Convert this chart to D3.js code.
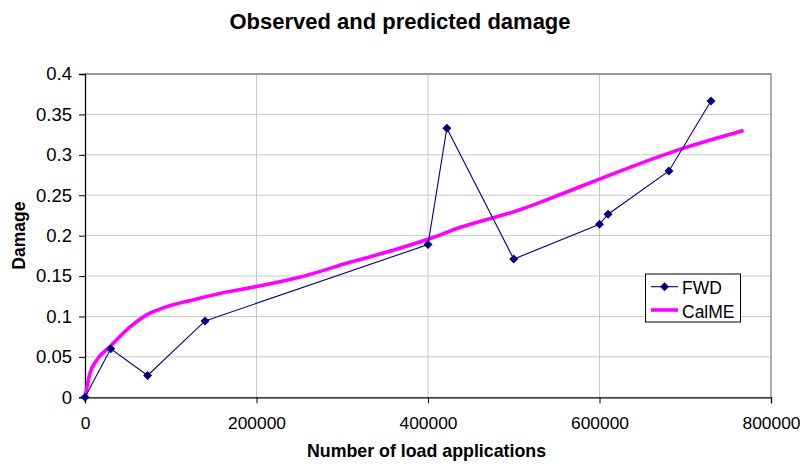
<!DOCTYPE html>
<html>
<head>
<meta charset="utf-8">
<script src="https://cdn.jsdelivr.net/npm/d3@7"></script>
<style>
  html, body { margin: 0; padding: 0; background: #fff; }
  svg { display: block; font-family: "Liberation Sans", Arial, sans-serif; }
</style>
</head>
<body>
<svg id="chart" width="800" height="464"></svg>
<script>
// ---- data ----
const fwdX = [0, 30000, 73000, 140000, 400000, 422000, 500000, 600000, 610000, 681000, 730000];
const fwdY = [0, 0.060, 0.027, 0.0945, 0.189, 0.333, 0.171, 0.214, 0.2265, 0.280, 0.3665];

const calmeX = [0, 5800, 13600, 29000, 52500, 72000, 95000, 126000, 157000, 200000, 250000, 309000, 367000, 400000, 437000, 507000, 558000, 600000, 686000, 768000];
const calmeY = [0, 0.0297, 0.046, 0.0625, 0.087, 0.102, 0.112, 0.1205, 0.1285, 0.137, 0.1485, 0.167, 0.1844, 0.1955, 0.210, 0.232, 0.2525, 0.270, 0.304, 0.330];

const xTicks = [0, 200000, 400000, 600000, 800000];
const yTicks = [0, 0.05, 0.1, 0.15, 0.2, 0.25, 0.3, 0.35, 0.4];
const seriesNames = ["FWD", "CalME"];
const titleText = "Observed and predicted damage";
const xTitle = "Number of load applications";
const yTitle = "Damage";

// ---- layout ----
const svg = d3.select("#chart");
const pL = 85, pR = 771, pT = 74, pB = 397.3;
const x = d3.scaleLinear().domain([0, 800000]).range([pL, pR]);
const y = d3.scaleLinear().domain([0, 0.4]).range([pB, pT]);

// gridlines
svg.append("g").selectAll("line").data(yTicks.filter(d => d > 0)).join("line")
  .attr("x1", pL).attr("x2", pR)
  .attr("y1", d => y(d)).attr("y2", d => y(d))
  .attr("stroke", "#c8c8c8").attr("stroke-width", 1);
svg.append("g").selectAll("line").data(xTicks.filter(d => d > 0 && d < 800000)).join("line")
  .attr("x1", d => x(d)).attr("x2", d => x(d))
  .attr("y1", pT).attr("y2", pB)
  .attr("stroke", "#c8c8c8").attr("stroke-width", 1);

// plot border (top/right grey)
svg.append("path")
  .attr("d", `M${pL},${pT}H${pR}V${pB}`)
  .attr("fill", "none").attr("stroke", "#808080").attr("stroke-width", 1.3);

// axes
const xAxis = d3.axisBottom(x).tickValues(xTicks).tickSize(6).tickPadding(6).tickFormat(d3.format("d"));
const gx = svg.append("g").attr("transform", `translate(0,${pB})`).call(xAxis);
gx.select(".domain").attr("stroke", "#000").attr("stroke-width", 1.3);
gx.selectAll(".tick line").attr("stroke", "#000");
gx.selectAll("text").attr("font-size", 17.4).attr("fill", "#000")
  .attr("font-family", "Liberation Sans, Arial, sans-serif")
  .attr("dy", null).attr("y", 32);

const yAxis = d3.axisLeft(y).tickValues(yTicks).tickSize(6).tickPadding(7).tickFormat(d => String(+d.toFixed(2)));
const gy = svg.append("g").attr("transform", `translate(${pL},0)`).call(yAxis);
gy.select(".domain").attr("stroke", "#000").attr("stroke-width", 1.3);
gy.selectAll(".tick line").attr("stroke", "#000");
gy.selectAll("text").attr("font-size", 18.5).attr("fill", "#000")
  .attr("font-family", "Liberation Sans, Arial, sans-serif");

// series
const fwd = fwdX.map((v, i) => [v, fwdY[i]]);
const calme = calmeX.map((v, i) => [v, calmeY[i]]);

svg.append("path").datum(calme)
  .attr("d", d3.line().x(d => x(d[0])).y(d => y(d[1])).curve(d3.curveMonotoneX))
  .attr("fill", "none").attr("stroke", "#ff00ff").attr("stroke-width", 3.6)
  .attr("stroke-linejoin", "round");

svg.append("path").datum(fwd)
  .attr("d", d3.line().x(d => x(d[0])).y(d => y(d[1])))
  .attr("fill", "none").attr("stroke", "#000080").attr("stroke-width", 1.1);

const diamond = (cx, cy, r) => `M${cx},${cy - r}L${cx + r},${cy}L${cx},${cy + r}L${cx - r},${cy}Z`;
svg.append("g").selectAll("path").data(fwd).join("path")
  .attr("d", d => diamond(x(d[0]), y(d[1]), 4.5))
  .attr("fill", "#000080");

// titles
svg.append("text").attr("x", 400).attr("y", 29).attr("text-anchor", "middle")
  .attr("font-size", 22).attr("font-weight", "bold").text(titleText);
svg.append("text").attr("x", 426.5).attr("y", 457).attr("text-anchor", "middle")
  .attr("font-size", 17.8).attr("font-weight", "bold").text(xTitle);
svg.append("text").attr("transform", `translate(24.5,${(pT + pB) / 2}) rotate(-90)`)
  .attr("text-anchor", "middle").attr("font-size", 17.5).attr("font-weight", "bold").text(yTitle);

// legend
const lg = svg.append("g");
lg.append("rect").attr("x", 645.5).attr("y", 274).attr("width", 95).attr("height", 48)
  .attr("fill", "#fff").attr("stroke", "#000").attr("stroke-width", 1);
lg.append("line").attr("x1", 651).attr("x2", 678).attr("y1", 286.7).attr("y2", 286.7)
  .attr("stroke", "#000080").attr("stroke-width", 1.1);
lg.append("path").attr("d", diamond(664.5, 286.7, 4.5)).attr("fill", "#000080");
lg.append("line").attr("x1", 651).attr("x2", 678).attr("y1", 310).attr("y2", 310)
  .attr("stroke", "#ff00ff").attr("stroke-width", 3.6);
lg.append("text").attr("x", 682).attr("y", 294.3).attr("font-size", 17.5).text(seriesNames[0]);
lg.append("text").attr("x", 682).attr("y", 317.5).attr("font-size", 17.5).text(seriesNames[1]);
</script>
</body>
</html>
